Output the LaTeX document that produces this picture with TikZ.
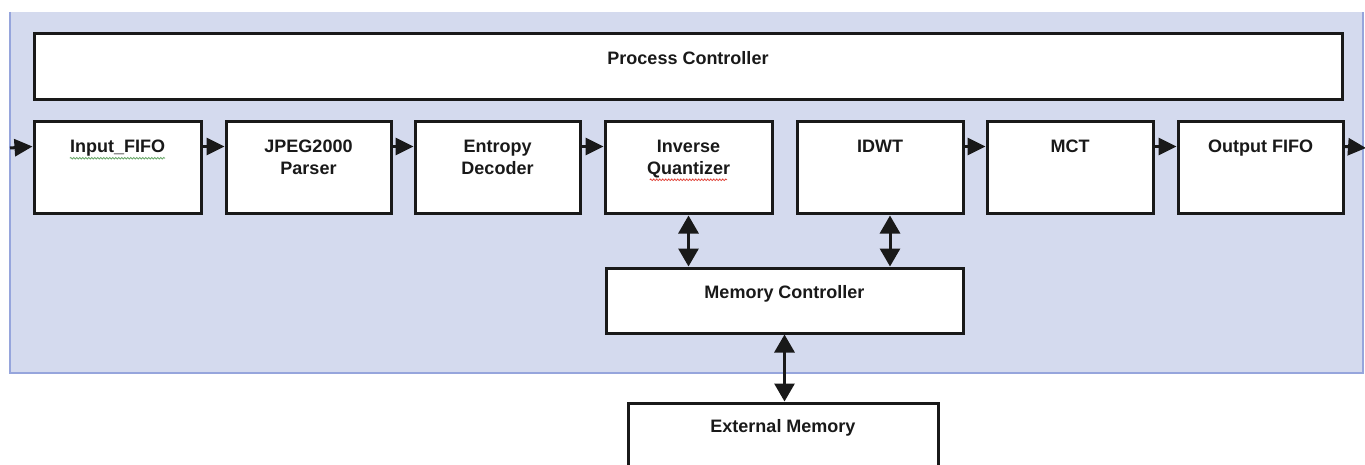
\documentclass[tikz,border=0pt]{standalone}
\usepackage{fontspec}
\setmainfont{Liberation Sans}
\usetikzlibrary{arrows.meta,calc,decorations.pathmorphing}
\definecolor{panelfill}{RGB}{212,218,238}
\definecolor{panelline}{RGB}{150,165,220}
\definecolor{ink}{RGB}{25,25,25}
\definecolor{spellgreen}{RGB}{110,170,110}
\definecolor{spellred}{RGB}{225,70,60}
\tikzset{
  blk/.style={draw=ink, line width=3pt, fill=white, rectangle, inner sep=0pt},
  lbl/.style={anchor=north, inner sep=0pt, align=center, text=ink,
    font=\fontsize{18}{22}\selectfont\bfseries},
  harr/.style={draw=ink, line width=3pt, -{Triangle[length=18pt,width=17pt]}},
  varr/.style={draw=ink, line width=3pt, {Triangle[length=18pt,width=20pt]}-{Triangle[length=18pt,width=20pt]}},
  spell/.style={line width=0.8pt, decorate, decoration={snake, amplitude=0.8pt, segment length=3pt}}
}
\begin{document}
\begin{tikzpicture}[x=1pt,y=-1pt]
\useasboundingbox (0,0) rectangle (1365,465);
\clip (0,0) rectangle (1365,465);
% panel
\fill[panelfill] (10,12) rectangle (1363,373);
\draw[panelline, line width=1.5pt] (10,12) -- (10,373) -- (1363,373) -- (1363,12);
% process controller
\node[blk, minimum width=1308pt, minimum height=66pt] (pc) at (688,67) {};
\node[lbl] (pct) at ([yshift=-18.5pt]pc.north) {Process Controller};
% row of blocks
\node[blk, minimum width=167pt, minimum height=92pt] (in)  at (117.5,168) {};
\node[blk, minimum width=165pt, minimum height=92pt] (jp)  at (308.5,168) {};
\node[blk, minimum width=165pt, minimum height=92pt] (ed)  at (497.5,168) {};
\node[blk, minimum width=167pt, minimum height=92pt] (iq)  at (688.5,168) {};
\node[blk, minimum width=166pt, minimum height=92pt] (dw)  at (880,168) {};
\node[blk, minimum width=166pt, minimum height=92pt] (mct) at (1070,168) {};
\node[blk, minimum width=165pt, minimum height=92pt] (of)  at (1260.5,168) {};
\node[lbl] (int)  at ([yshift=-19.5pt]in.north)  {Input\_FIFO};
\node[lbl] (jpt)  at ([yshift=-19.5pt]jp.north)  {JPEG2000\\Parser};
\node[lbl] (edt)  at ([yshift=-19.5pt]ed.north)  {Entropy\\Decoder};
\node[lbl] (iqt)  at ([yshift=-19.5pt]iq.north)  {Inverse\\Quantizer};
\node[lbl] (dwt)  at ([yshift=-19.5pt]dw.north)  {IDWT};
\node[lbl] (mctt) at ([yshift=-19.5pt]mct.north) {MCT};
\node[lbl] (oft)  at ([yshift=-19.5pt]of.north)  {Output FIFO};
% memory blocks
\node[blk, minimum width=357pt, minimum height=65pt] (mc) at (784.5,300.5) {};
\node[lbl] (mct2) at ([yshift=-18.5pt]mc.north) {Memory Controller};
\node[blk, minimum width=310pt, minimum height=100pt] (em) at (783,453) {};
\node[lbl] (emt) at ([yshift=-17.5pt]em.north) {External Memory};
% spell-check underlines
\draw[spell, spellgreen] (int.south west) ++(0,1.5) -- ($(int.south east)+(0,1.5)$);
\draw[spell, spellred] ($(iqt.south west)+(3,1.5)$) -- ($(iqt.south east)+(-3,1.5)$);
% data path arrows
\coordinate (src) at (10,148);
\coordinate (dst) at (1366,148);
\draw[harr] (src) -- ([yshift=-26pt]in.north west);
\draw[harr] ([yshift=-26pt]in.north east) -- ([yshift=-26pt]jp.north west);
\draw[harr] ([yshift=-26pt]jp.north east) -- ([yshift=-26pt]ed.north west);
\draw[harr] ([yshift=-26pt]ed.north east) -- ([yshift=-26pt]iq.north west);
\draw[harr] ([yshift=-26pt]dw.north east) -- ([yshift=-26pt]mct.north west);
\draw[harr] ([yshift=-26pt]mct.north east) -- ([yshift=-26pt]of.north west);
\draw[harr] ([yshift=-26pt]of.north east) -- (dst);
% memory arrows
\draw[varr] (iq.south) -- (iq.south |- mc.north);
\draw[varr] ([xshift=10pt]dw.south) -- ([xshift=10pt]dw.south |- mc.north);
\draw[varr] (mc.south) -- (mc.south |- em.north);
\end{tikzpicture}
\end{document}
